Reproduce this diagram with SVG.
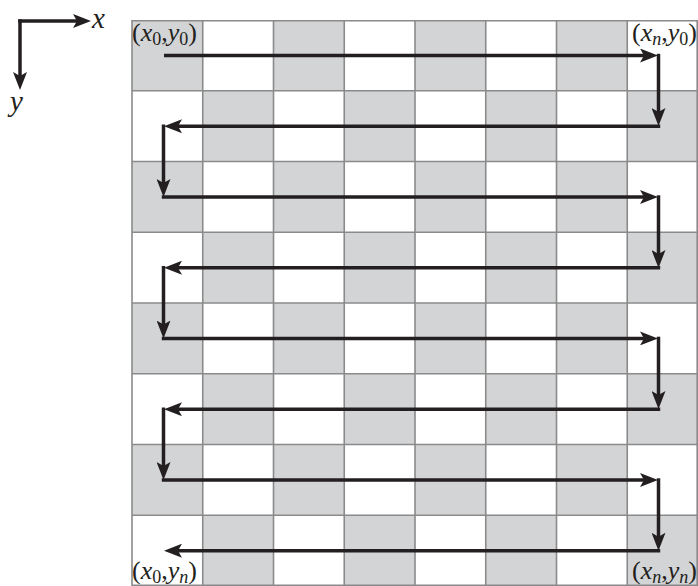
<svg xmlns="http://www.w3.org/2000/svg" width="698" height="586" viewBox="0 0 698 586">
<style>
.g{fill:#d3d4d6}
.grid{stroke:#8a8a8a;stroke-width:1.6;fill:none}
.arr{stroke:#231f20;stroke-width:3.5;fill:none;marker-end:url(#ah)}
.lbl{font-family:"Liberation Serif",serif;font-size:26px;fill:#231f20}
.ax{font-size:29px}
.it{font-style:italic}
.sub{font-size:18px}
</style>
<defs>
<marker id="ah" viewBox="0 0 18 14" markerWidth="18" markerHeight="14" refX="9" refY="7" orient="auto" markerUnits="userSpaceOnUse">
<path d="M0,0 L18,7 L0,14 L4,7 z" fill="#231f20"/>
</marker>
</defs>
<rect width="698" height="586" fill="#fff"/>
<g id="board">
<rect x="132" y="20" width="566" height="566" fill="#fff"/>
<g id="cells">
<rect class="g" x="132" y="20" width="70.75" height="70.75"/>
<rect class="g" x="273.5" y="20" width="70.75" height="70.75"/>
<rect class="g" x="415" y="20" width="70.75" height="70.75"/>
<rect class="g" x="556.5" y="20" width="70.75" height="70.75"/>
<rect class="g" x="202.75" y="90.75" width="70.75" height="70.75"/>
<rect class="g" x="344.25" y="90.75" width="70.75" height="70.75"/>
<rect class="g" x="485.75" y="90.75" width="70.75" height="70.75"/>
<rect class="g" x="627.25" y="90.75" width="70.75" height="70.75"/>
<rect class="g" x="132" y="161.5" width="70.75" height="70.75"/>
<rect class="g" x="273.5" y="161.5" width="70.75" height="70.75"/>
<rect class="g" x="415" y="161.5" width="70.75" height="70.75"/>
<rect class="g" x="556.5" y="161.5" width="70.75" height="70.75"/>
<rect class="g" x="202.75" y="232.25" width="70.75" height="70.75"/>
<rect class="g" x="344.25" y="232.25" width="70.75" height="70.75"/>
<rect class="g" x="485.75" y="232.25" width="70.75" height="70.75"/>
<rect class="g" x="627.25" y="232.25" width="70.75" height="70.75"/>
<rect class="g" x="132" y="303" width="70.75" height="70.75"/>
<rect class="g" x="273.5" y="303" width="70.75" height="70.75"/>
<rect class="g" x="415" y="303" width="70.75" height="70.75"/>
<rect class="g" x="556.5" y="303" width="70.75" height="70.75"/>
<rect class="g" x="202.75" y="373.75" width="70.75" height="70.75"/>
<rect class="g" x="344.25" y="373.75" width="70.75" height="70.75"/>
<rect class="g" x="485.75" y="373.75" width="70.75" height="70.75"/>
<rect class="g" x="627.25" y="373.75" width="70.75" height="70.75"/>
<rect class="g" x="132" y="444.5" width="70.75" height="70.75"/>
<rect class="g" x="273.5" y="444.5" width="70.75" height="70.75"/>
<rect class="g" x="415" y="444.5" width="70.75" height="70.75"/>
<rect class="g" x="556.5" y="444.5" width="70.75" height="70.75"/>
<rect class="g" x="202.75" y="515.25" width="70.75" height="70.75"/>
<rect class="g" x="344.25" y="515.25" width="70.75" height="70.75"/>
<rect class="g" x="485.75" y="515.25" width="70.75" height="70.75"/>
<rect class="g" x="627.25" y="515.25" width="70.75" height="70.75"/>
</g>
<path class="grid" d="M132,20V586M202.75,20V586M273.5,20V586M344.25,20V586M415,20V586M485.75,20V586M556.5,20V586M627.25,20V586M697.2,20V586M132,20.8H698M132,90.75H698M132,161.5H698M132,232.25H698M132,303H698M132,373.75H698M132,444.5H698M132,515.25H698M132,585.2H698"/>
</g>
<g id="axes">
<line class="arr" x1="18.2" y1="21" x2="82" y2="21"/>
<line class="arr" x1="20" y1="19.3" x2="20" y2="81"/>
<text class="lbl ax it" x="92" y="28">x</text>
<text class="lbl ax it" x="10" y="111">y</text>
</g>
<g id="connectors">
<line class="arr" x1="164" y1="55.5" x2="649" y2="55.5"/>
<line class="arr" x1="658.5" y1="53.8" x2="658.5" y2="117"/>
<line class="arr" x1="660.2" y1="126.2" x2="173" y2="126.2"/>
<line class="arr" x1="163.5" y1="124.5" x2="163.5" y2="188"/>
<line class="arr" x1="161.8" y1="197" x2="649" y2="197"/>
<line class="arr" x1="658.5" y1="195.3" x2="658.5" y2="259"/>
<line class="arr" x1="660.2" y1="267.7" x2="173" y2="267.7"/>
<line class="arr" x1="163.5" y1="266" x2="163.5" y2="329.5"/>
<line class="arr" x1="161.8" y1="338.4" x2="649" y2="338.4"/>
<line class="arr" x1="658.5" y1="336.7" x2="658.5" y2="400"/>
<line class="arr" x1="660.2" y1="409.2" x2="173" y2="409.2"/>
<line class="arr" x1="163.5" y1="407.5" x2="163.5" y2="471"/>
<line class="arr" x1="161.8" y1="480" x2="649" y2="480"/>
<line class="arr" x1="658.5" y1="478.3" x2="658.5" y2="541.7"/>
<line class="arr" x1="660.2" y1="550.7" x2="173" y2="550.7"/>
</g>
<g id="labels">
<text class="lbl" x="132" y="41">(<tspan class="it">x</tspan><tspan class="sub" dy="4">0</tspan><tspan dy="-4">,</tspan><tspan class="it">y</tspan><tspan class="sub" dy="4">0</tspan><tspan dy="-4">)</tspan></text>
<text class="lbl" x="697" y="41" text-anchor="end">(<tspan class="it">x</tspan><tspan class="sub it" dy="4">n</tspan><tspan dy="-4">,</tspan><tspan class="it">y</tspan><tspan class="sub" dy="4">0</tspan><tspan dy="-4">)</tspan></text>
<text class="lbl" x="132" y="579">(<tspan class="it">x</tspan><tspan class="sub" dy="4">0</tspan><tspan dy="-4">,</tspan><tspan class="it">y</tspan><tspan class="sub it" dy="4">n</tspan><tspan dy="-4">)</tspan></text>
<text class="lbl" x="697" y="579" text-anchor="end">(<tspan class="it">x</tspan><tspan class="sub it" dy="4">n</tspan><tspan dy="-4">,</tspan><tspan class="it">y</tspan><tspan class="sub it" dy="4">n</tspan><tspan dy="-4">)</tspan></text>
</g>
</svg>
